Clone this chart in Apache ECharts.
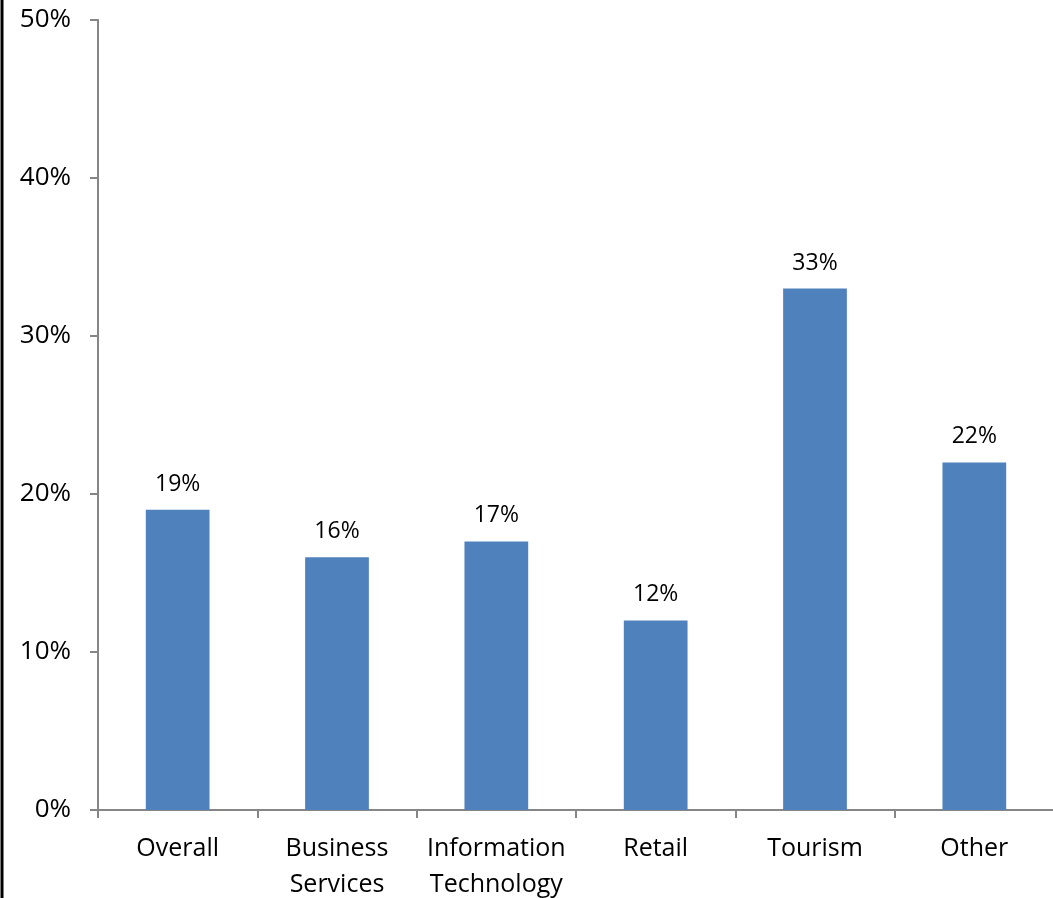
<!DOCTYPE html>
<html>
<head>
<meta charset="utf-8">
<script src="https://cdn.jsdelivr.net/npm/echarts@6/dist/echarts.min.js"></script>
<style>
html,body{margin:0;padding:0;background:#fff;}
#chart{width:1053px;height:898px;}
</style>
</head>
<body>
<div id="chart"></div>
<script>
const categories = ['Overall', 'Business\nServices', 'Information\nTechnology', 'Retail', 'Tourism', 'Other'];
const values = [19, 16, 17, 12, 33, 22];
const yTicks = { min: 0, max: 50, interval: 10 };

const chart = echarts.init(document.getElementById('chart'));
const font = "'Open Sans', 'Liberation Sans', sans-serif";
chart.setOption({
  animation: false,
  backgroundColor: '#fff',
  grid: { left: 98, top: 20, width: 956, height: 790, containLabel: false, outerBoundsMode: 'none' },
  xAxis: {
    type: 'category',
    data: categories,
    axisLine: { lineStyle: { color: '#868686', width: 2 } },
    axisTick: { show: true, length: 8, lineStyle: { color: '#868686', width: 2 } },
    axisLabel: { color: '#000', fontSize: 25, fontFamily: font, margin: 21, lineHeight: 36, interval: 0 }
  },
  yAxis: {
    type: 'value',
    min: yTicks.min, max: yTicks.max, interval: yTicks.interval,
    axisLine: { show: true, lineStyle: { color: '#868686', width: 2 } },
    axisTick: { show: true, length: 8, lineStyle: { color: '#868686', width: 2 } },
    splitLine: { show: false },
    axisLabel: { color: '#000', fontSize: 26, fontFamily: font, margin: 27, formatter: '{value}%' }
  },
  series: [{
    type: 'bar',
    data: values,
    barWidth: '40%',
    itemStyle: { color: '#4F81BD' },
    label: { show: true, position: 'top', distance: 14, color: '#000', fontSize: 23, fontFamily: font, formatter: '{c}%' }
  }],
  graphic: [{
    type: 'line',
    shape: { x1: 2, y1: 0, x2: 2, y2: 898 },
    style: { stroke: '#000', lineWidth: 3 }
  }]
});
</script>
</body>
</html>
